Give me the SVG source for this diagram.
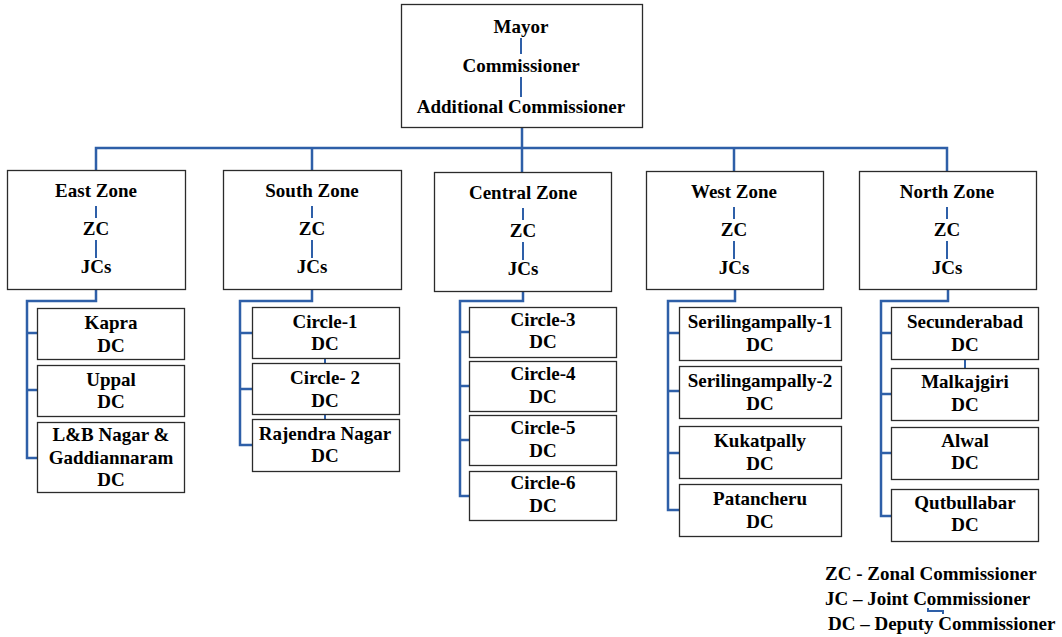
<svg xmlns="http://www.w3.org/2000/svg" width="1062" height="637" viewBox="0 0 1062 637">
<style>
.box{fill:#fff;stroke:#2b2b2b;stroke-width:1.3}
.t{font-family:"Liberation Serif","Times New Roman",serif;font-weight:bold;font-size:19px;fill:#000;text-anchor:middle}
.lg{font-family:"Liberation Serif","Times New Roman",serif;font-weight:bold;font-size:19px;fill:#000}
.c{fill:none;stroke:#2e5fa8;stroke-width:2.5}
.ci{fill:none;stroke:#2e5fa8;stroke-width:2}
</style>
<rect width="1062" height="637" fill="#fff"/>
<g id="connectors">
<path class="c" d="M522,128V172M96,170V148H947V171M312,148V170M734,148V171"/>
<path class="c" d="M96,289V301H27V458H37M27,333H37M27,390H37"/>
<path class="c" d="M312,289V301H240V445H252M240,333H252M240,389H252"/>
<path class="c" d="M523,292V301H460V496H469M460,332H469M460,386H469M460,440H469"/>
<path class="c" d="M735,289V301H668V510H679M668,333H679M668,391H679M668,453H679"/>
<path class="c" d="M948,289V301H881V516H891M881,333H891M881,394H891M881,453H891"/>
<path class="ci" d="M325,358V363M325,414V419M965,359V368"/>
<path class="ci" d="M928,608V611H943V614"/>
</g>
<g id="top">
<rect class="box" x="401.5" y="4.5" width="241" height="123"/>
<path class="ci" d="M521,38V54M521,77V97"/>
<text class="t" x="521" y="33">Mayor</text>
<text class="t" x="521" y="72">Commissioner</text>
<text class="t" x="521" y="113">Additional Commissioner</text>
</g>
<g id="east-zone">
<rect class="box" x="7.5" y="170.5" width="178" height="119"/>
<path class="ci" d="M96,206V218M96,240V258"/>
<text class="t" x="96" y="197">East Zone</text>
<text class="t" x="96" y="235">ZC</text>
<text class="t" x="96" y="273">JCs</text>
</g>
<g id="south-zone">
<rect class="box" x="223.5" y="170.5" width="178" height="119"/>
<path class="ci" d="M312,206V218M312,240V258"/>
<text class="t" x="312" y="197">South Zone</text>
<text class="t" x="312" y="235">ZC</text>
<text class="t" x="312" y="273">JCs</text>
</g>
<g id="central-zone">
<rect class="box" x="434.5" y="172.5" width="177" height="119"/>
<path class="ci" d="M523,208V220M523,242V260"/>
<text class="t" x="523" y="199">Central Zone</text>
<text class="t" x="523" y="237">ZC</text>
<text class="t" x="523" y="275">JCs</text>
</g>
<g id="west-zone">
<rect class="box" x="646.5" y="171.5" width="177" height="118"/>
<path class="ci" d="M734,207V219M734,241V259"/>
<text class="t" x="734" y="198">West Zone</text>
<text class="t" x="734" y="236">ZC</text>
<text class="t" x="734" y="274">JCs</text>
</g>
<g id="north-zone">
<rect class="box" x="859.5" y="171.5" width="177" height="118"/>
<path class="ci" d="M947,207V219M947,241V259"/>
<text class="t" x="947" y="198">North Zone</text>
<text class="t" x="947" y="236">ZC</text>
<text class="t" x="947" y="274">JCs</text>
</g>
<g id="kapra"><rect class="box" x="37.5" y="308.5" width="147" height="51"/><text class="t" x="111" y="329">Kapra</text><text class="t" x="111" y="352">DC</text></g>
<g id="uppal"><rect class="box" x="37.5" y="365.5" width="147" height="51"/><text class="t" x="111" y="386">Uppal</text><text class="t" x="111" y="408">DC</text></g>
<g id="lb-nagar"><rect class="box" x="37.5" y="422.5" width="147" height="70"/><text class="t" x="111" y="441">L&amp;B Nagar &amp;</text><text class="t" x="111" y="464">Gaddiannaram</text><text class="t" x="111" y="486">DC</text></g>
<g id="circle-1"><rect class="box" x="252.5" y="307.5" width="147" height="51"/><text class="t" x="325" y="328">Circle-1</text><text class="t" x="325" y="350">DC</text></g>
<g id="circle-2"><rect class="box" x="252.5" y="363.5" width="147" height="51"/><text class="t" x="325" y="384">Circle- 2</text><text class="t" x="325" y="407">DC</text></g>
<g id="rajendra-nagar"><rect class="box" x="252.5" y="419.5" width="147" height="52"/><text class="t" x="325" y="440">Rajendra Nagar</text><text class="t" x="325" y="462">DC</text></g>
<g id="circle-3"><rect class="box" x="469.5" y="307.5" width="147" height="50"/><text class="t" x="543" y="326">Circle-3</text><text class="t" x="543" y="348">DC</text></g>
<g id="circle-4"><rect class="box" x="469.5" y="361.5" width="147" height="50"/><text class="t" x="543" y="380">Circle-4</text><text class="t" x="543" y="403">DC</text></g>
<g id="circle-5"><rect class="box" x="469.5" y="415.5" width="147" height="50"/><text class="t" x="543" y="434">Circle-5</text><text class="t" x="543" y="457">DC</text></g>
<g id="circle-6"><rect class="box" x="469.5" y="471.5" width="147" height="49"/><text class="t" x="543" y="489">Circle-6</text><text class="t" x="543" y="512">DC</text></g>
<g id="serilingampally-1"><rect class="box" x="679.5" y="307.5" width="162" height="53"/><text class="t" x="760" y="328">Serilingampally-1</text><text class="t" x="760" y="351">DC</text></g>
<g id="serilingampally-2"><rect class="box" x="679.5" y="366.5" width="162" height="52"/><text class="t" x="760" y="387">Serilingampally-2</text><text class="t" x="760" y="410">DC</text></g>
<g id="kukatpally"><rect class="box" x="679.5" y="426.5" width="162" height="52"/><text class="t" x="760" y="447">Kukatpally</text><text class="t" x="760" y="470">DC</text></g>
<g id="patancheru"><rect class="box" x="679.5" y="484.5" width="162" height="52"/><text class="t" x="760" y="505">Patancheru</text><text class="t" x="760" y="528">DC</text></g>
<g id="secunderabad"><rect class="box" x="891.5" y="307.5" width="147" height="52"/><text class="t" x="965" y="328">Secunderabad</text><text class="t" x="965" y="351">DC</text></g>
<g id="malkajgiri"><rect class="box" x="891.5" y="368.5" width="147" height="52"/><text class="t" x="965" y="388">Malkajgiri</text><text class="t" x="965" y="411">DC</text></g>
<g id="alwal"><rect class="box" x="891.5" y="427.5" width="147" height="52"/><text class="t" x="965" y="447">Alwal</text><text class="t" x="965" y="469">DC</text></g>
<g id="qutbullabar"><rect class="box" x="891.5" y="489.5" width="147" height="52"/><text class="t" x="965" y="509">Qutbullabar</text><text class="t" x="965" y="531">DC</text></g>
<g id="legend">
<text class="lg" x="825" y="580">ZC - Zonal Commissioner</text>
<text class="lg" x="825" y="605">JC – Joint Commissioner</text>
<text class="lg" x="828" y="630">DC – Deputy Commissioner</text>
</g>
</svg>
